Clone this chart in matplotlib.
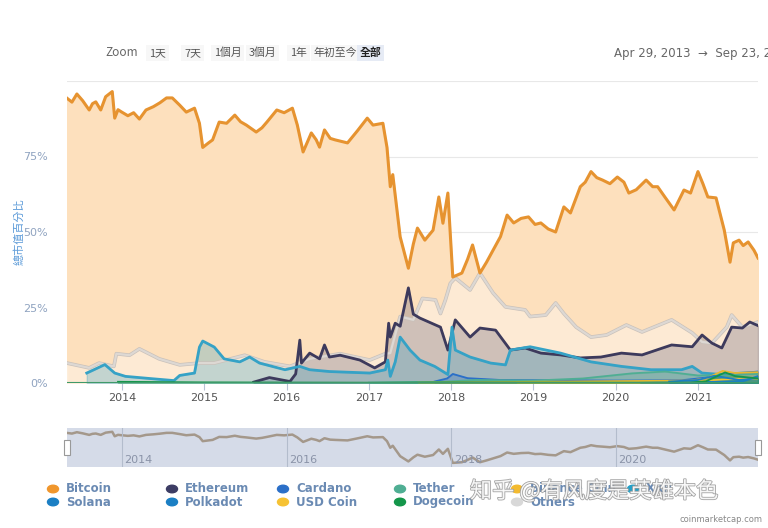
import matplotlib
matplotlib.use("Agg")
import matplotlib.pyplot as plt
import matplotlib.patheffects as pe
from matplotlib.patches import Rectangle

plt.rcParams['font.family'] = ['DejaVu Sans', 'Noto Sans CJK TC']

# 总市值占比 (%), x = 年份 (小数)
btc_year = [2013.33, 2013.39, 2013.45, 2013.52, 2013.60, 2013.64, 2013.68, 2013.74, 2013.80,
            2013.88, 2013.91, 2013.95, 2013.99, 2014.07, 2014.14, 2014.21, 2014.29, 2014.38,
            2014.46, 2014.54, 2014.61, 2014.70, 2014.78, 2014.88, 2014.94, 2014.98, 2015.05,
            2015.10, 2015.18, 2015.27, 2015.37, 2015.44, 2015.51, 2015.63, 2015.70, 2015.76,
            2015.88, 2015.97, 2016.07, 2016.13, 2016.20, 2016.30, 2016.36, 2016.40, 2016.46,
            2016.53, 2016.59, 2016.74, 2016.86, 2016.98, 2017.05, 2017.17, 2017.22, 2017.26,
            2017.29, 2017.38, 2017.48, 2017.54, 2017.59, 2017.68, 2017.78, 2017.85, 2017.90,
            2017.96, 2018.02, 2018.13, 2018.20, 2018.26, 2018.35, 2018.43, 2018.51, 2018.60,
            2018.68, 2018.76, 2018.85, 2018.94, 2019.02, 2019.09, 2019.18, 2019.27, 2019.37,
            2019.45, 2019.57, 2019.63, 2019.70, 2019.77, 2019.84, 2019.93, 2020.02, 2020.10,
            2020.16, 2020.25, 2020.37, 2020.45, 2020.51, 2020.60, 2020.71, 2020.83, 2020.91,
            2021.00, 2021.06, 2021.12, 2021.22, 2021.32, 2021.39, 2021.43, 2021.50, 2021.55,
            2021.61, 2021.68, 2021.73]
btc_share = [94.3, 93.0, 95.7, 93.5, 90.4, 92.5, 93.1, 90.4, 94.8,
             96.5, 87.7, 90.5, 89.8, 88.5, 89.5, 87.4, 90.4, 91.5,
             92.8, 94.4, 94.4, 92.0, 89.7, 91.0, 86.0, 78.0, 79.5,
             80.5, 86.4, 86.0, 88.7, 86.5, 85.4, 83.1, 84.5, 86.4,
             90.4, 89.5, 91.0, 85.4, 76.5, 82.8, 80.5, 78.1, 83.8,
             81.0, 80.5, 79.5, 83.5, 87.7, 85.4, 86.0, 78.0, 65.0,
             69.0, 48.4, 38.0, 46.0, 51.3, 47.3, 50.6, 61.6, 52.9,
             62.9, 35.1, 36.4, 41.0, 45.7, 36.4, 40.0, 44.0, 48.5,
             55.6, 53.0, 54.5, 55.0, 52.5, 53.0, 51.0, 50.0, 58.3,
             56.3, 65.0, 66.5, 70.0, 68.0, 67.2, 66.0, 68.2, 66.5,
             62.9, 64.0, 67.2, 65.0, 65.0, 61.5, 57.3, 63.9, 62.9,
             70.0, 66.0, 61.6, 61.3, 50.6, 40.0, 46.4, 47.3, 45.5,
             46.7, 44.0, 41.4]

oth_year = [2013.33, 2013.60, 2013.72, 2013.90, 2013.93, 2014.09, 2014.21, 2014.45, 2014.70,
            2014.94, 2015.12, 2015.49, 2015.73, 2016.04, 2016.28, 2016.65, 2017.01, 2017.20,
            2017.26, 2017.38, 2017.54, 2017.65, 2017.81, 2017.87, 2017.93, 2017.99, 2018.05,
            2018.23, 2018.35, 2018.51, 2018.66, 2018.90, 2018.96, 2019.15, 2019.27, 2019.37,
            2019.52, 2019.70, 2019.89, 2020.13, 2020.32, 2020.68, 2020.93, 2021.05, 2021.17,
            2021.35, 2021.41, 2021.54, 2021.73]
oth_share = [6.6, 5.0, 6.6, 5.5, 9.7, 9.2, 11.3, 8.0, 6.0,
             6.6, 6.6, 9.2, 7.0, 5.5, 8.0, 9.7, 7.6, 9.7,
             9.9, 22.0, 20.9, 28.0, 27.5, 23.0, 27.5, 33.0, 34.8,
             30.8, 36.4, 29.8, 25.2, 24.2, 22.0, 22.5, 26.5, 23.0,
             18.5, 15.2, 15.9, 19.2, 16.9, 20.9, 16.6, 13.6, 13.2,
             18.5, 22.5, 18.5, 20.2]

eth_year = [2015.60, 2015.79, 2016.04, 2016.11, 2016.16, 2016.18, 2016.28, 2016.40, 2016.46,
            2016.52, 2016.65, 2016.89, 2017.07, 2017.20, 2017.24, 2017.26, 2017.32, 2017.38,
            2017.48, 2017.54, 2017.62, 2017.87, 2017.96, 2018.05, 2018.23, 2018.35, 2018.54,
            2018.72, 2018.90, 2019.09, 2019.33, 2019.57, 2019.82, 2020.07, 2020.32, 2020.68,
            2020.93, 2021.05, 2021.17, 2021.29, 2021.41, 2021.54, 2021.63, 2021.73]
eth_share = [0.3, 1.8, 0.5, 3.0, 14.2, 6.6, 9.9, 8.0, 12.6,
             8.6, 9.2, 7.6, 5.0, 7.0, 19.8, 15.2, 19.8, 18.8,
             31.5, 22.8, 21.5, 18.5, 10.9, 20.9, 15.2, 18.2, 17.5,
             10.9, 11.6, 9.9, 9.3, 8.3, 8.6, 9.9, 9.3, 12.6,
             12.0, 15.9, 13.2, 11.6, 18.5, 18.2, 20.2, 19.0]

xrp_year = [2013.57, 2013.79, 2013.91, 2014.04, 2014.33, 2014.63, 2014.70, 2014.88, 2014.94,
            2014.98, 2015.12, 2015.24, 2015.43, 2015.55, 2015.67, 2015.98, 2016.16, 2016.28,
            2016.52, 2017.01, 2017.20, 2017.23, 2017.26, 2017.32, 2017.38, 2017.50, 2017.62,
            2017.80, 2017.96, 2018.01, 2018.05, 2018.23, 2018.48, 2018.66, 2018.72, 2018.96,
            2019.33, 2019.70, 2020.07, 2020.43, 2020.80, 2020.93, 2021.05, 2021.29, 2021.54,
            2021.73]
xrp_share = [3.3, 6.1, 3.3, 2.2, 1.5, 0.8, 2.5, 3.3, 11.9,
             13.9, 11.9, 8.0, 7.0, 8.6, 6.6, 4.4, 5.5, 4.4,
             3.8, 3.3, 4.4, 7.6, 2.2, 7.0, 15.2, 10.9, 7.6,
             5.5, 2.8, 18.5, 10.9, 8.6, 6.6, 6.0, 10.9, 12.0,
             9.9, 7.0, 5.5, 4.4, 4.4, 5.5, 3.3, 2.8, 3.3,
             3.3]

ada_year = [2017.80, 2017.95, 2018.02, 2018.20, 2018.60, 2019.20, 2020.00, 2020.80, 2021.10, 2021.40, 2021.73]
ada_share = [0.5, 1.5, 3.0, 1.6, 1.0, 0.9, 0.8, 0.9, 1.8, 3.0, 3.8]
usdt_year = [2017.00, 2017.90, 2018.30, 2019.00, 2019.60, 2020.20, 2020.60, 2021.00, 2021.40, 2021.73]
usdt_share = [0.1, 0.4, 1.0, 0.8, 1.5, 3.2, 3.8, 2.5, 2.6, 3.1]
bnb_year = [2017.60, 2019.00, 2020.90, 2021.10, 2021.30, 2021.45, 2021.73]
bnb_share = [0.1, 0.4, 0.8, 1.5, 4.0, 3.3, 3.6]
doge_year = [2013.95, 2015.00, 2017.00, 2018.00, 2020.90, 2021.10, 2021.33, 2021.45, 2021.73]
doge_share = [0.4, 0.2, 0.1, 0.2, 0.1, 0.6, 3.5, 2.3, 1.5]
usdc_year = [2018.80, 2020.50, 2021.00, 2021.40, 2021.73]
usdc_share = [0.1, 0.3, 0.6, 1.3, 1.4]
sol_year = [2020.30, 2021.20, 2021.55, 2021.73]
sol_share = [0.05, 0.4, 0.6, 2.3]
dot_year = [2020.65, 2021.00, 2021.20, 2021.50, 2021.73]
dot_share = [0.5, 1.0, 2.4, 1.0, 1.6]

year_ticks = [2014, 2015, 2016, 2017, 2018, 2019, 2020, 2021]
nav_ticks = [2014, 2016, 2018, 2020]
pct_ticks = [0, 25, 50, 75]

legend_rows = [[("Bitcoin", "#f0962c"), ("Ethereum", "#3c3c64"), ("Cardano", "#2b6fc8"),
                ("Tether", "#4fae93"), ("Binance Coin", "#f3ba2f"), ("XRP", "#23a0c8")],
               [("Solana", "#1b7fc4"), ("Polkadot", "#1b7fc4"), ("USD Coin", "#f6c233"),
                ("Dogecoin", "#14964a"), ("Others", "#d8d8d8")]]

W, H = 768, 528
fig = plt.figure(figsize=(W / 100, H / 100), dpi=100)


def fx(px):
    return px / W


def fy(py):
    return 1 - py / H


x0, x1 = 2013.33, 2021.73

ax = fig.add_axes([fx(67), fy(383), fx(758) - fx(67), fy(81) - fy(383)])
ax.set_xlim(x0, x1)
ax.set_ylim(0, 100)

# 主面积
ax.fill_between(btc_year, btc_share, color="#fde0bd", zorder=1)
ax.plot(btc_year, btc_share, color="#e69330", lw=2.2, zorder=6)

ax.fill_between(oth_year, oth_share, color="white", alpha=0.35, zorder=2)
ax.plot(oth_year, oth_share, color="#ddd8d3", lw=1.6, zorder=5,
        path_effects=[pe.Stroke(linewidth=2.6, foreground="#c9c1ba"), pe.Normal()])

ax.fill_between(eth_year, eth_share, color="#5a5470", alpha=0.28, zorder=3)
ax.plot(eth_year, eth_share, color="#3d3a5c", lw=2, zorder=5)

ax.fill_between(xrp_year, xrp_share, color="#2f9ec4", alpha=0.28, zorder=3)
ax.plot(xrp_year, xrp_share, color="#35a2c6", lw=2, zorder=5)

small = [(ada_year, ada_share, "#2b6fc8"), (usdt_year, usdt_share, "#4fae93"),
         (bnb_year, bnb_share, "#e8b830"), (usdc_year, usdc_share, "#f6c233"),
         (sol_year, sol_share, "#1b7fc4"), (dot_year, dot_share, "#1b7fc4"),
         (doge_year, doge_share, "#14964a")]
for yr, val, c in small:
    ax.fill_between(yr, val, color=c, alpha=0.3, zorder=4)
    ax.plot(yr, val, color=c, lw=1.3, zorder=5)
ax.axhline(0, color="#3f9a6a", lw=1.5, zorder=5)

for v in pct_ticks[1:] + [100]:
    ax.axhline(v, color="#e8e8e8", lw=0.8, zorder=0.5)

for s in ax.spines.values():
    s.set_visible(False)
ax.set_xticks(year_ticks)
ax.set_xticklabels([str(y) for y in year_ticks], fontsize=8, color="#555555")
ax.tick_params(axis="x", length=5, color="#b8c3d6", pad=2)
ax.set_yticks(pct_ticks)
ax.set_yticklabels([f"{v}%" for v in pct_ticks], fontsize=8, color="#8fa3c0")
ax.tick_params(axis="y", length=0, pad=14)
ax.set_ylabel("總市值百分比", fontsize=8, color="#5b9ad8",
              family=["Noto Sans CJK TC"])
ax.yaxis.set_label_coords(-(67 - 24) / 691, 0.5)

# 导航条
nav = fig.add_axes([fx(67), fy(467), fx(758) - fx(67), fy(428) - fy(467)])
nav.set_facecolor("#d5dbe8")
nav.set_xlim(x0, x1)
nav.set_ylim(27, 104)
nav.plot(btc_year, btc_share, color="#a4988b", lw=1.8)
for t in nav_ticks:
    nav.axvline(t, color="#b3bccc", lw=0.8)
    nav.text(t + 0.03, 31, str(t), fontsize=8, color="#8a93a8", va="bottom", ha="left")
nav.set_xticks([])
nav.set_yticks([])
for s in nav.spines.values():
    s.set_visible(False)
for hx in (64, 755):
    fig.patches.append(Rectangle((fx(hx), fy(455)), fx(6), fy(440) - fy(455),
                                 transform=fig.transFigure, facecolor="white",
                                 edgecolor="#999999", lw=0.8, zorder=10))

# 顶部按钮
cjk = ["Noto Sans CJK TC", "DejaVu Sans"]
fig.text(fx(105), fy(53), "Zoom", fontsize=8.5, color="#666666", va="center", family=cjk)
buttons = [("1天", 149), ("7天", 184), ("1個月", 214), ("3個月", 249), ("1年", 290),
           ("年初至今", 314), ("全部", 360)]
for lab, bx in buttons:
    is_all = lab == "全部"
    fig.text(fx(bx), fy(53), lab, fontsize=7.8, color="#222222" if is_all else "#555555",
             va="center", family=cjk, weight="bold" if is_all else "normal",
             bbox=dict(boxstyle="square,pad=0.25", fc="#e6ebf5" if is_all else "#f7f7f7",
                       ec="none"))
fig.text(fx(614), fy(53), "Apr 29, 2013  →  Sep 23, 2021", fontsize=8.5, color="#666666",
         va="center")

# 图例
col_x = [53, 172, 283, 400, 517, 633]
row_y = [489, 502]
for r, items in enumerate(legend_rows):
    for c, (name, color) in enumerate(items):
        fig.patches.append(plt.Circle((fx(col_x[c]), fy(row_y[r])), 5.5 / W,
                                      transform=fig.transFigure, color=color))
        fig.text(fx(col_x[c] + 13), fy(row_y[r]), name, fontsize=8.5, color="#6a8ab3",
                 weight="bold", va="center")

fig.text(fx(470), fy(491), "知乎 @有风度是英雄本色", fontsize=16, color="white", va="center",
         family=["Noto Sans CJK SC"], alpha=0.9,
         path_effects=[pe.Stroke(linewidth=1.2, foreground="#9a9a9a"), pe.Normal()])
fig.text(fx(762), fy(519), "coinmarketcap.com", fontsize=6, color="#888888",
         va="center", ha="right")

fig.savefig("out.png", dpi=100)
